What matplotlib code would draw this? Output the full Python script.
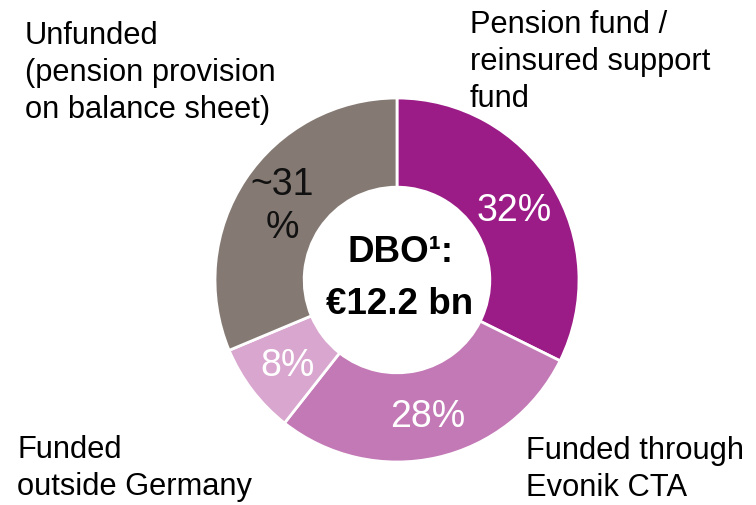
import numpy as np
import matplotlib
matplotlib.use("Agg")
from matplotlib import pyplot as plt

plt.rcParams['font.family'] = ['Liberation Sans', 'DejaVu Sans']

# DBO split by funding type, clockwise from 12 o'clock
categories = ['Pension fund /\nreinsured support\nfund',
              'Funded through\nEvonik CTA',
              'Funded\noutside Germany',
              'Unfunded\n(pension provision\non balance sheet)']
shares = [32, 28, 8, 31]
share_labels = ['32%', '28%', '8%', '~31\n%']
colors = ['#9B1C86', '#C279B5', '#D8A6CE', '#857A73']
pct_colors = ['white', 'white', 'white', '#111111']

W, H = 756, 505
fig = plt.figure(figsize=(W / 100, H / 100), dpi=100)
ax = fig.add_axes([0, 0, 1, 1])

cx, cy, R = 397, H - 280, 182
wedges, _ = ax.pie(shares, colors=colors, startangle=90, counterclock=False,
                   center=(cx, cy), radius=R, frame=True,
                   wedgeprops=dict(width=R * 0.49, edgecolor='white', linewidth=2))
ax.set_xlim(0, W)
ax.set_ylim(0, H)
ax.set_aspect('equal')
ax.axis('off')

# percentage labels at the middle of each ring segment
for w, lab, c in zip(wedges, share_labels, pct_colors):
    ang = np.deg2rad((w.theta1 + w.theta2) / 2)
    r = R * 0.755
    ax.text(cx + r * np.cos(ang), cy + r * np.sin(ang) - 3, lab,
            ha='center', va='center', fontsize=27, color=c, linespacing=1.25)

# centre caption
ax.text(cx + 3, H - 252, 'DBO¹:', ha='center', va='center',
        fontsize=26.5, fontweight='bold', color='black')
ax.text(cx + 3, H - 305, '€12.2 bn', ha='center', va='center',
        fontsize=26.5, fontweight='bold', color='black')

# category names around the ring
label_pos = [(470, H - 10), (526, H - 436), (17, H - 435), (25, H - 21)]
for name, (x, y) in zip(categories, label_pos):
    ax.text(x, y, name, ha='left', va='top', fontsize=22.2, color='black',
            linespacing=1.3)

fig.savefig('out.png', dpi=100)
